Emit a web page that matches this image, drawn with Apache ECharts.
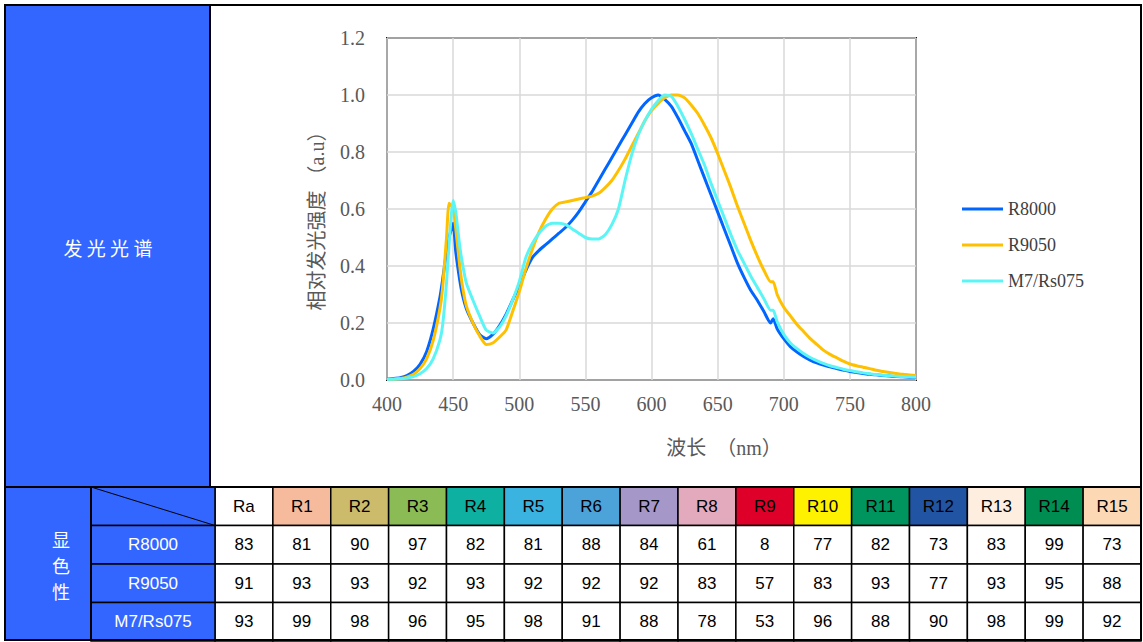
<!DOCTYPE html>
<html>
<head>
<meta charset="utf-8">
<title>发光光谱 / 显色性</title>
<script src="https://cdn.jsdelivr.net/npm/echarts@6/dist/echarts.min.js"></script>
<style>
  html, body { margin: 0; padding: 0; background: #fff; }
  #main { width: 1143px; height: 642px; }
</style>
</head>
<body>
<div id="main"></div>
<script>
// spectrum, wavelength in nm (denser around the blue peak and the 692nm notch)
var wavelengths = [
  400, 405, 410, 415, 420, 425, 430, 435, 440,
  442, 445, 447, 450, 452, 455, 457, 460,
  465, 470, 475, 480, 485, 490, 495, 500, 505, 510,
  515, 520, 525, 530, 535, 540, 545, 550, 555, 560,
  565, 570, 575, 580, 585, 590, 595, 600, 605, 610,
  615, 620, 625, 630, 635, 640, 645, 650, 655, 660,
  665, 670, 675, 680, 685, 690,
  692,
  695, 700, 705, 710, 715, 720, 725, 730, 735, 740, 745,
  750, 755, 760, 765, 770, 775, 780, 785, 790, 795, 800
];
var r8000Spec = [
  0.003, 0.005, 0.008, 0.015, 0.03, 0.055, 0.10, 0.18, 0.29,
  0.35, 0.45, 0.50, 0.55, 0.45, 0.35, 0.30, 0.25,
  0.20, 0.16, 0.145, 0.16, 0.19, 0.23, 0.28, 0.33, 0.385, 0.43,
  0.455, 0.475, 0.495, 0.515, 0.535, 0.56, 0.59, 0.625, 0.66, 0.70,
  0.74, 0.78, 0.82, 0.86, 0.90, 0.94, 0.97, 0.99, 1.0, 0.985,
  0.96, 0.92, 0.875, 0.83, 0.77, 0.71, 0.65, 0.59, 0.53, 0.47,
  0.41, 0.36, 0.315, 0.28, 0.24, 0.20,
  0.215,
  0.18, 0.145, 0.117, 0.098, 0.083, 0.07, 0.06, 0.052, 0.046, 0.04, 0.035,
  0.03, 0.026, 0.023, 0.02, 0.018, 0.016, 0.014, 0.012, 0.011, 0.01, 0.009
];
var r9050Spec = [
  0.002, 0.003, 0.005, 0.01, 0.02, 0.04, 0.075, 0.14, 0.25,
  0.32, 0.50, 0.62, 0.60, 0.53, 0.40, 0.33, 0.26,
  0.20, 0.155, 0.125, 0.13, 0.15, 0.175, 0.24, 0.31, 0.39, 0.46,
  0.52, 0.565, 0.60, 0.62, 0.625, 0.63, 0.635, 0.64, 0.645, 0.655,
  0.675, 0.70, 0.735, 0.775, 0.82, 0.865, 0.91, 0.945, 0.97, 0.99,
  1.0, 1.0, 0.99, 0.965, 0.935, 0.895, 0.85, 0.795, 0.735, 0.675,
  0.61, 0.55, 0.49, 0.435, 0.385, 0.345,
  0.345,
  0.30, 0.255, 0.225, 0.195, 0.17, 0.145, 0.125, 0.105, 0.09, 0.078, 0.066,
  0.056, 0.05, 0.045, 0.04, 0.034, 0.03, 0.026, 0.023, 0.02, 0.018, 0.016
];
var m7Spec = [
  0.002, 0.003, 0.004, 0.007, 0.012, 0.022, 0.04, 0.075, 0.14,
  0.19, 0.34, 0.48, 0.63, 0.59, 0.47, 0.41, 0.34,
  0.28, 0.225, 0.175, 0.165, 0.185, 0.225, 0.28, 0.345, 0.43, 0.48,
  0.515, 0.54, 0.55, 0.55, 0.545, 0.53, 0.515, 0.50, 0.495, 0.495,
  0.51, 0.545, 0.60, 0.70, 0.79, 0.86, 0.91, 0.95, 0.98, 1.0,
  0.995, 0.96, 0.915, 0.865, 0.81, 0.755, 0.69, 0.63, 0.57, 0.51,
  0.455, 0.41, 0.365, 0.325, 0.285, 0.245,
  0.245,
  0.205, 0.16, 0.13, 0.11, 0.093, 0.079, 0.068, 0.058, 0.05, 0.044, 0.038,
  0.033, 0.029, 0.025, 0.022, 0.019, 0.017, 0.015, 0.013, 0.012, 0.011, 0.01
];

// colour rendering table
var samples = ['R8000', 'R9050', 'M7/Rs075'];
var criIndices = ['Ra', 'R1', 'R2', 'R3', 'R4', 'R5', 'R6', 'R7', 'R8', 'R9', 'R10', 'R11', 'R12', 'R13', 'R14', 'R15'];
var criHeaderColors = ['#FFFFFF', '#F6BB9C', '#CBBB6B', '#8ABB54', '#0EB1A1', '#3AB3E0', '#4CA3DA', '#A598C8',
  '#E3A9BC', '#DE0029', '#FFF200', '#00955F', '#2155A3', '#FEEEE0', '#008D51', '#FCD8B4'];
var r8000Cri = [83, 81, 90, 97, 82, 81, 88, 84, 61, 8, 77, 82, 73, 83, 99, 73];
var r9050Cri = [91, 93, 93, 92, 93, 92, 92, 92, 83, 57, 83, 93, 77, 93, 95, 88];
var m7Cri = [93, 99, 98, 96, 95, 98, 91, 88, 78, 53, 96, 88, 90, 98, 99, 92];

var lineColors = ['#0066FF', '#FFC000', '#5CF5F5'];
var blockBlue = '#3366FF';
var tableRows = [''].concat(samples);

function pairs(vals) {
  return wavelengths.map(function (w, i) { return [w, vals[i]]; });
}

// cells of the table: header row + one row per sample
var tableCells = [];
criIndices.forEach(function (name, i) {
  tableCells.push({ pos: [i, 0], text: name, fill: criHeaderColors[i] });
});
[r8000Cri, r9050Cri, m7Cri].forEach(function (row, r) {
  row.forEach(function (v, i) {
    tableCells.push({ pos: [i, r + 1], text: String(v), fill: '#FFFFFF' });
  });
});

function cellRect(api) {
  var c = api.coord([api.value(0), api.value(1)]);
  var s = api.size([1, 1]);
  return { x: c[0] - s[0] / 2, y: c[1] - s[1] / 2, width: s[0], height: s[1] };
}

function renderCriCell(params, api) {
  var cell = tableCells[params.dataIndex];
  return {
    type: 'rect',
    shape: cellRect(api),
    style: { fill: cell.fill, stroke: '#000', lineWidth: 1.5 },
    textContent: {
      style: { text: cell.text, fill: '#000', font: '17px "Liberation Sans", Arial, sans-serif' }
    },
    textConfig: { position: 'inside' }
  };
}

function renderNameCell(params, api) {
  var r = tableRows[params.dataIndex];
  var box = cellRect(api);
  var rect = {
    type: 'rect',
    shape: box,
    style: { fill: blockBlue, stroke: '#000', lineWidth: 1.5 },
    textContent: {
      style: { text: r, fill: '#fff', font: '17px "Liberation Sans", Arial, sans-serif' }
    },
    textConfig: { position: 'inside' }
  };
  if (params.dataIndex !== 0) return rect;
  // header corner: diagonal line
  return {
    type: 'group',
    children: [rect, {
      type: 'line',
      shape: { x1: box.x, y1: box.y, x2: box.x + box.width, y2: box.y + box.height },
      style: { stroke: '#000', lineWidth: 1 }
    }]
  };
}

var serifFont = '"Liberation Serif", "Times New Roman", serif';
var labelFont = '"Liberation Serif", "Noto Sans CJK SC", serif';

var chart = echarts.init(document.getElementById('main'), null, { renderer: 'svg' });

var option = {
  animation: false,
  backgroundColor: '#fff',
  legend: {
    data: ['R8000', 'R9050', 'M7/Rs075'],
    orient: 'vertical',
    left: 962,
    top: 200,
    padding: 0,
    icon: 'rect',
    itemWidth: 41,
    itemHeight: 3,
    itemGap: 18,
    textStyle: { fontFamily: serifFont, fontSize: 18, color: '#404040' }
  },
  grid: [
    { left: 387, top: 38, width: 529, height: 342, show: true, borderColor: '#000', borderWidth: 1.8 },
    { left: 215, top: 487, width: 926, height: 154 },
    { left: 91, top: 487, width: 124, height: 154 }
  ],
  xAxis: [
    {
      gridIndex: 0, type: 'value', min: 400, max: 800, interval: 50,
      axisLine: { show: false }, axisTick: { show: false },
      axisLabel: { fontFamily: serifFont, fontSize: 20, color: '#595959', margin: 14 },
      splitLine: { lineStyle: { color: '#D9D9D9', width: 1.5 } },
      name: '波长  （nm）', nameLocation: 'middle', nameGap: 58,
      nameTextStyle: { fontFamily: labelFont, fontSize: 20, color: '#595959', padding: [0, 0, 0, 145] }
    },
    { gridIndex: 1, type: 'category', data: criIndices, show: false },
    { gridIndex: 2, type: 'category', data: ['name'], show: false }
  ],
  yAxis: [
    {
      gridIndex: 0, type: 'value', min: 0, max: 1.2, interval: 0.2,
      axisLine: { show: false }, axisTick: { show: false },
      axisLabel: {
        fontFamily: serifFont, fontSize: 20, color: '#595959', margin: 22,
        formatter: function (v) { return v.toFixed(1); }
      },
      splitLine: { lineStyle: { color: '#D9D9D9', width: 1.5 } },
      name: '相对发光强度 （a.u）', nameLocation: 'middle', nameGap: 60,
      nameTextStyle: { fontFamily: labelFont, fontSize: 20, color: '#595959', padding: [0, 0, 0, -14] }
    },
    { gridIndex: 1, type: 'category', data: tableRows, inverse: true, show: false },
    { gridIndex: 2, type: 'category', data: tableRows, inverse: true, show: false }
  ],
  series: [
    {
      name: 'R8000', type: 'line', xAxisIndex: 0, yAxisIndex: 0, data: pairs(r8000Spec),
      showSymbol: false, smooth: 0.2, color: lineColors[0], lineStyle: { width: 3 }
    },
    {
      name: 'R9050', type: 'line', xAxisIndex: 0, yAxisIndex: 0, data: pairs(r9050Spec),
      showSymbol: false, smooth: 0.2, color: lineColors[1], lineStyle: { width: 3 }
    },
    {
      name: 'M7/Rs075', type: 'line', xAxisIndex: 0, yAxisIndex: 0, data: pairs(m7Spec),
      showSymbol: false, smooth: 0.2, color: lineColors[2], lineStyle: { width: 3 }
    },
    {
      type: 'custom', xAxisIndex: 1, yAxisIndex: 1, renderItem: renderCriCell,
      data: tableCells.map(function (c) { return c.pos; }), z: 3
    },
    {
      type: 'custom', xAxisIndex: 2, yAxisIndex: 2, renderItem: renderNameCell,
      data: tableRows.map(function (r, i) { return [0, i]; }), z: 3
    }
  ],
  graphic: [
    // blue blocks on the left
    { type: 'rect', z: -10, shape: { x: 6, y: 5, width: 204, height: 482 }, style: { fill: blockBlue } },
    { type: 'rect', z: -10, shape: { x: 6, y: 487, width: 85, height: 154 }, style: { fill: blockBlue } },
    {
      type: 'text', z: 10, x: 108, y: 247,
      style: { text: '发 光 光 谱', fill: '#fff', font: '19px "Noto Sans CJK SC"', align: 'center', verticalAlign: 'middle' }
    },
    {
      type: 'text', z: 10, x: 61, y: 565,
      style: { text: '显\n色\n性', fill: '#fff', font: '18px "Noto Sans CJK SC"', lineHeight: 26, align: 'center', verticalAlign: 'middle' }
    },
    // frame lines
    { type: 'line', z: 20, shape: { x1: 210, y1: 5, x2: 210, y2: 487 }, style: { stroke: '#000', lineWidth: 2 } },
    { type: 'line', z: 20, shape: { x1: 5, y1: 487, x2: 1141, y2: 487 }, style: { stroke: '#000', lineWidth: 2 } },
    { type: 'line', z: 20, shape: { x1: 91, y1: 487, x2: 91, y2: 641 }, style: { stroke: '#000', lineWidth: 2 } },
    { type: 'rect', z: 20, shape: { x: 5, y: 5, width: 1136, height: 635 }, style: { fill: 'none', stroke: '#000', lineWidth: 2 } }
  ]
};

chart.setOption(option);
</script>
</body>
</html>
